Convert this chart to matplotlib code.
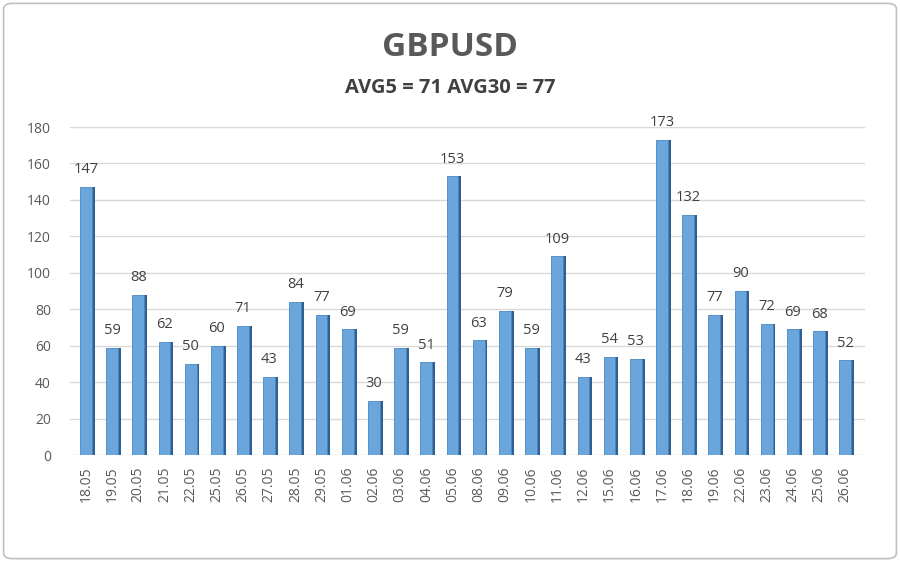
import matplotlib
matplotlib.use("Agg")
import matplotlib.pyplot as plt
from matplotlib.patches import FancyBboxPatch

# daily ranges, points
dates = ["18.05", "19.05", "20.05", "21.05", "22.05", "25.05", "26.05", "27.05",
         "28.05", "29.05", "01.06", "02.06", "03.06", "04.06", "05.06", "08.06",
         "09.06", "10.06", "11.06", "12.06", "15.06", "16.06", "17.06", "18.06",
         "19.06", "22.06", "23.06", "24.06", "25.06", "26.06"]
values = [147, 59, 88, 62, 50, 60, 71, 43, 84, 77, 69, 30, 59, 51, 153, 63,
          79, 59, 109, 43, 54, 53, 173, 132, 77, 90, 72, 69, 68, 52]
yticks = [0, 20, 40, 60, 80, 100, 120, 140, 160, 180]
title = "GBPUSD"
subtitle = "AVG5 = 71 AVG30 = 77"

plt.rcParams['font.family'] = ['Open Sans', 'DejaVu Sans']

fig = plt.figure(figsize=(9, 5.62), dpi=100)
ax = fig.add_axes([0.078, 0.19, 0.883, 0.584])

x = list(range(len(values)))
front_w = 0.45
side_w = 0.12

# darker side of each bar, then the front face
ax.bar([i + front_w / 2 + side_w / 2 - 0.01 for i in x], values, width=side_w,
       color="#2f5f90", zorder=2)
ax.bar(x, values, width=front_w, color="#6aa6dc", edgecolor="#4a86c0",
       linewidth=0.6, zorder=3)

for i, v in zip(x, values):
    ax.annotate(str(v), (i, v), xytext=(0, 7), textcoords="offset points",
                ha="center", va="bottom", fontsize=10.5, color="#404040")

ax.set_ylim(0, 180)
ax.set_xlim(-0.6, len(values) - 0.25)
ax.set_yticks(yticks)
ax.set_yticklabels([str(t) for t in yticks], fontsize=10, color="#595959")
ax.set_xticks(x)
ax.set_xticklabels(dates, rotation=90, fontsize=10, color="#595959")
ax.tick_params(length=0, pad=8)
ax.tick_params(axis="y", pad=14)
ax.yaxis.grid(True, color="#d9d9d9", linewidth=1)
ax.set_axisbelow(True)
for s in ax.spines.values():
    s.set_visible(False)

fig.text(0.5, 0.915, title, ha="center", va="center", fontsize=24,
         fontweight="bold", color="#595959")
fig.text(0.5, 0.843, subtitle, ha="center", va="center", fontsize=14.5,
         fontweight="bold", color="#404040")

frame = FancyBboxPatch((0.004, 0.006), 0.992, 0.988, boxstyle="round,pad=0,rounding_size=0.01",
                       transform=fig.transFigure, fill=False, edgecolor="#bfbfbf",
                       linewidth=1.2)
fig.patches.append(frame)

fig.savefig("out.png", dpi=100)
